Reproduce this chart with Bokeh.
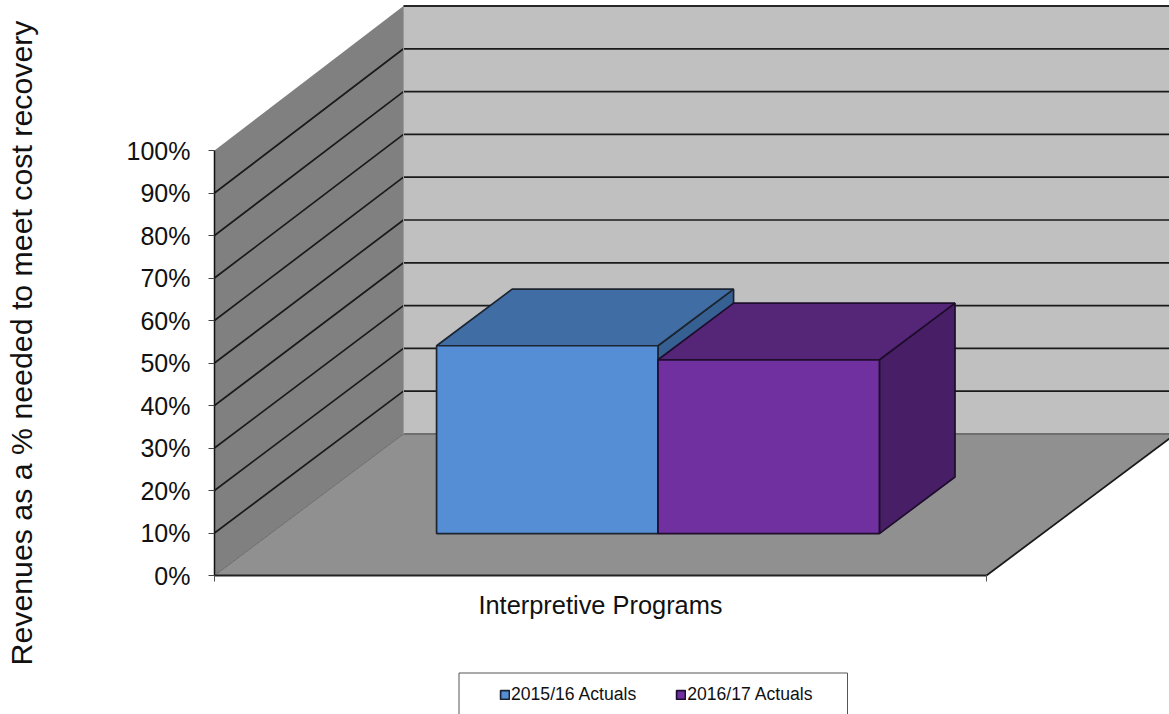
from bokeh.plotting import figure
from bokeh.models import Range1d, FixedTicker, Legend, LegendItem, BoxAnnotation
from bokeh.embed import file_html
from bokeh.resources import INLINE

category = ["Interpretive Programs"]
series = ["2015/16 Actuals", "2016/17 Actuals"]
values = [44.2, 40.9]
y_ticks = [0, 10, 20, 30, 40, 50, 60, 70, 80, 90, 100]
y_labels = ["0%", "10%", "20%", "30%", "40%", "50%", "60%", "70%", "80%", "90%", "100%"]
y_title = "Revenues as a % needed to meet cost recovery"

front_colors = ["#558ed5", "#7030a0"]
top_colors = ["#406da3", "#552578"]
side_colors = ["#376092", "#481f67"]

# isometric depth of the chart box, in data units
DX, DY = 0.2448, 33.3
BACK = 1.007  # the back wall's scale is slightly larger than the front's
BAR_NEAR, BAR_FAR = 0.296, 0.696
BAR_START, BAR_W = 0.2152, 0.2868

p = figure(width=1169, height=714, output_backend="svg", toolbar_location=None,
           x_range=Range1d(-214 / 772, 955 / 772), y_range=Range1d(-139 / 4.25, 575 / 4.25),
           min_border=0, outline_line_color=None,
           background_fill_color=None, border_fill_color="white")
p.grid.visible = False

TOP = 100 * BACK + DY

# walls and floor
p.patch([DX, 2, 2, DX], [DY, DY, TOP, TOP], fill_color="#c0c0c0", line_color=None)
p.patch([0, DX, DX, 0], [0, DY, TOP, 100], fill_color="#808080", line_color=None)
p.patch([0, 1, 1 + DX, DX], [0, 0, DY, DY], fill_color="#909090", line_color=None)

# gridlines
for t in y_ticks[1:-1]:
    p.line([0, DX, 2], [t, t * BACK + DY, t * BACK + DY], line_color="#1a1a1a", line_width=1.7)
p.line([DX, 2], [DY, DY], line_color="#6e6e6e", line_width=2)
p.line([0, DX], [0, DY], line_color="#6b6b6b", line_width=1)
p.line([DX, DX], [DY, TOP], line_color="#9a9a9a", line_width=1)
p.line([DX, 2], [TOP, TOP], line_color="#262626", line_width=2)
p.line([1, 1 + DX], [0, DY], line_color="#1a1a1a", line_width=1.7)
p.line([0, 0], [0, 100], line_color="#111111", line_width=1.5)

# bars
fronts = []
for i, v in enumerate(values):
    x0 = BAR_START + BAR_NEAR * DX + i * BAR_W
    x1 = x0 + BAR_W
    y0 = BAR_NEAR * DY
    y1 = y0 + v
    ddx = (BAR_FAR - BAR_NEAR) * DX
    ddy = (BAR_FAR - BAR_NEAR) * DY
    edge = "#1c2430" if i == 0 else "#1e0d2c"
    p.patch([x1, x1 + ddx, x1 + ddx, x1], [y0, y0 + ddy, y1 + ddy, y1],
            fill_color=side_colors[i], line_color=edge, line_width=1.7)
    p.patch([x0, x1, x1 + ddx, x0 + ddx], [y1, y1, y1 + ddy, y1 + ddy],
            fill_color=top_colors[i], line_color=edge, line_width=1.7)
    fronts.append(p.quad(left=x0, right=x1, bottom=y0, top=y1,
                         fill_color=front_colors[i], line_color=edge, line_width=1.7))

# axes
ya = p.yaxis[0]
ya.fixed_location = 0
ya.bounds = (0, 109.4)
ya.ticker = FixedTicker(ticks=y_ticks)
ya.major_label_overrides = dict(zip(y_ticks, y_labels))
ya.axis_label = y_title
ya.axis_label_text_font = "Liberation Sans"
ya.axis_label_text_font_size = "30.3px"
ya.axis_label_text_font_style = "normal"
ya.axis_label_text_color = "#111111"
ya.axis_label_standoff = 86
ya.major_label_text_font = "Liberation Sans"
ya.major_label_text_font_size = "25px"
ya.major_label_text_color = "#111111"
ya.major_label_standoff = 18
ya.major_tick_in = 0
ya.major_tick_out = 6
ya.minor_tick_line_color = None
ya.axis_line_color = None
ya.major_tick_line_color = "#444444"

xa = p.xaxis[0]
xa.fixed_location = 0
xa.bounds = (0, 1)
xa.ticker = FixedTicker(ticks=[0.5], minor_ticks=[0, 1])
xa.major_label_overrides = {0.5: category[0]}
xa.major_label_text_font = "Liberation Sans"
xa.major_label_text_font_size = "25.4px"
xa.major_label_text_color = "#111111"
xa.major_label_standoff = 9
xa.major_tick_line_color = None
xa.minor_tick_in = 0
xa.minor_tick_out = 6
xa.minor_tick_line_color = "#555555"
xa.axis_line_color = "#222222"
xa.axis_line_width = 2

# legend frame and legend
p.add_layout(BoxAnnotation(left=458.5, right=847, top=672.5, bottom=740,
                           left_units="canvas", right_units="canvas", top_units="canvas", bottom_units="canvas",
                           fill_color=None, fill_alpha=0, line_color="#555555", line_alpha=1, line_width=1,
                           level="annotation"))
legend = Legend(items=[LegendItem(label=s, renderers=[r]) for s, r in zip(series, fronts)],
                orientation="horizontal", location=(499, 9),
                padding=0, margin=0, spacing=39, label_standoff=1,
                glyph_width=11, glyph_height=11,
                label_text_font="Liberation Sans", label_text_font_size="17.6px", label_text_color="#111111",
                background_fill_color=None, border_line_color=None)
p.add_layout(legend, "center")

open("out.html", "w").write(file_html(p, INLINE))
